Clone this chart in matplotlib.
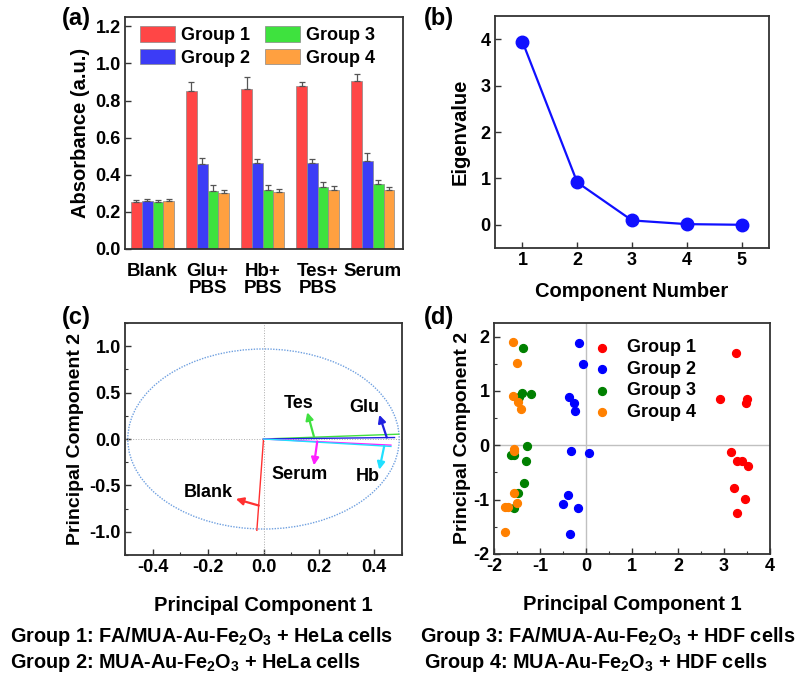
import numpy as np
import matplotlib
matplotlib.use("Agg")
import matplotlib.pyplot as plt
from matplotlib.patches import Ellipse
from matplotlib.ticker import MultipleLocator, FormatStrFormatter

plt.rcParams['font.family'] = ['Liberation Sans', 'DejaVu Sans']
plt.rcParams['font.weight'] = 'bold'
plt.rcParams['axes.labelweight'] = 'bold'
plt.rcParams['axes.unicode_minus'] = False
plt.rcParams['mathtext.fontset'] = 'custom'
plt.rcParams['mathtext.rm'] = 'Liberation Sans:bold'
plt.rcParams['mathtext.default'] = 'rm'

# ---------------- data ----------------
categories = ["Blank", "Glu+\nPBS", "Hb+\nPBS", "Tes+\nPBS", "Serum"]
group_names = ["Group 1", "Group 2", "Group 3", "Group 4"]
bar_colors = ["#ff4646", "#3c3cf6", "#3ee23e", "#ffa040"]

g1_abs = [0.255, 0.851, 0.864, 0.880, 0.907]
g2_abs = [0.258, 0.458, 0.465, 0.463, 0.474]
g3_abs = [0.255, 0.311, 0.320, 0.332, 0.348]
g4_abs = [0.259, 0.300, 0.309, 0.316, 0.320]
g1_err = [0.011, 0.047, 0.061, 0.020, 0.038]
g2_err = [0.011, 0.031, 0.020, 0.022, 0.043]
g3_err = [0.011, 0.034, 0.025, 0.027, 0.024]
g4_err = [0.012, 0.020, 0.014, 0.025, 0.014]

component = [1, 2, 3, 4, 5]
eigenvalue = [3.95, 0.915, 0.094, 0.014, 0.0]

# loadings (line end points) and label arrows
load_names = ["Blank", "Tes", "Glu", "Serum", "Hb"]
load_colors = ["#ff3030", "#40e040", "#2020e0", "#ff20ff", "#20e0ff"]
load_x = [-0.024, 0.488, 0.473, 0.460, 0.460]
load_y = [-0.984, 0.052, 0.016, -0.066, -0.080]
arrow_x0 = [-0.017, 0.182, 0.445, 0.194, 0.436]
arrow_y0 = [-0.717, 0.027, 0.016, -0.027, -0.073]
arrow_x1 = [-0.100, 0.158, 0.418, 0.182, 0.418]
arrow_y1 = [-0.646, 0.288, 0.260, -0.284, -0.331]
label_x = [-0.200, 0.127, 0.364, 0.131, 0.378]
label_y = [-0.580, 0.378, 0.342, -0.378, -0.403]

pc_g1_x = [3.27, 2.91, 3.50, 3.47, 3.15, 3.29, 3.39, 3.53, 3.21, 3.45, 3.28]
pc_g1_y = [1.706, 0.855, 0.855, 0.78, -0.12, -0.285, -0.285, -0.38, -0.78, -0.98, -1.25]
pc_g2_x = [-0.146, -0.073, -0.38, -0.263, -0.24, -0.32, 0.073, -0.40, -0.50, -0.18, -0.34]
pc_g2_y = [1.877, 1.504, 0.891, 0.775, 0.634, -0.10, -0.15, -0.91, -1.08, -1.16, -1.63]
pc_g3_x = [-1.365, -1.39, -1.20, -1.46, -1.277, -1.62, -1.555, -1.31, -1.35, -1.47, -1.555]
pc_g3_y = [1.797, 0.97, 0.946, 0.897, -0.01, -0.175, -0.18, -0.28, -0.695, -0.88, -1.156]
pc_g4_x = [-1.584, -1.50, -1.59, -1.47, -1.42, -1.57, -1.57, -1.555, -1.51, -1.76, -1.70, -1.76]
pc_g4_y = [1.907, 1.52, 0.91, 0.80, 0.66, -0.07, -0.11, -0.88, -1.06, -1.13, -1.13, -1.60]
pc_colors = ["#ff0000", "#0000ff", "#008000", "#ff8000"]

caption_1 = r"Group 1: FA/MUA-Au-Fe$_2$O$_3$ + HeLa cells"
caption_2 = r"Group 2: MUA-Au-Fe$_2$O$_3$ + HeLa cells"
caption_3 = r"Group 3: FA/MUA-Au-Fe$_2$O$_3$ + HDF cells"
caption_4 = r"Group 4: MUA-Au-Fe$_2$O$_3$ + HDF cells"

# ---------------- figure ----------------
fig = plt.figure(figsize=(8.04, 6.82), dpi=100)
ax_a = fig.add_axes([0.1555, 0.6349, 0.3458, 0.3402])
ax_b = fig.add_axes([0.6157, 0.6364, 0.3408, 0.3401])
ax_c = fig.add_axes([0.1555, 0.1862, 0.3445, 0.3402])
ax_d = fig.add_axes([0.6144, 0.1877, 0.3433, 0.3387])

spine_col = "#333333"
tick_fs = 13
label_fs = 14.5
for ax in (ax_a, ax_b, ax_c, ax_d):
    for s in ax.spines.values():
        s.set_color(spine_col)
        s.set_linewidth(1.3)
    ax.tick_params(direction="in", which="both", labelsize=tick_fs, color=spine_col, pad=3)
    ax.tick_params(which="major", length=4.5, width=1)
    ax.tick_params(which="minor", length=2.5, width=0.8)

# ---- (a) bar chart ----
x = np.arange(len(categories))
w = 0.195
vals = [g1_abs, g2_abs, g3_abs, g4_abs]
errs = [g1_err, g2_err, g3_err, g4_err]
for i in range(4):
    ax_a.bar(x + (i - 1.5) * w, vals[i], w, yerr=[np.zeros(5), errs[i]],
             color=bar_colors[i], edgecolor="#888888", linewidth=0.5,
             error_kw=dict(ecolor="#555555", elinewidth=0.9, capsize=2.2, capthick=0.9),
             label=group_names[i])
ax_a.set_xlim(-0.5, 4.55)
ax_a.set_ylim(0, 1.25)
ax_a.set_xticks(x)
ax_a.set_xticklabels(categories, fontsize=13.5, linespacing=1.0)
ax_a.tick_params(axis="x", length=0, pad=10)
ax_a.yaxis.set_major_locator(MultipleLocator(0.2))
ax_a.yaxis.set_major_formatter(FormatStrFormatter("%.1f"))
ax_a.set_ylabel("Absorbance (a.u.)", fontsize=label_fs, labelpad=4)
ax_a.legend(ncol=2, loc="upper left", bbox_to_anchor=(-0.005, 1.03), frameon=False,
            fontsize=13, handlelength=1.95, handleheight=0.95, columnspacing=0.8,
            handletextpad=0.35, labelspacing=0.25, borderpad=0.4)

# ---- (b) scree plot ----
ax_b.plot(component, eigenvalue, "-o", color="#1010ff", lw=1.6, ms=9)
ax_b.set_xlim(0.5, 5.5)
ax_b.set_ylim(-0.5, 4.5)
ax_b.set_xticks(component)
ax_b.set_yticks([0, 1, 2, 3, 4])
ax_b.set_xlabel("Component Number", fontsize=label_fs, labelpad=9)
ax_b.set_ylabel("Eigenvalue", fontsize=label_fs, labelpad=8)

# ---- (c) loading plot ----
ax_c.axhline(0, color="#aaaaaa", lw=0.7, ls=":")
ax_c.axvline(0, color="#aaaaaa", lw=0.7, ls=":")
ax_c.add_patch(Ellipse((0, 0), 0.98, 1.94, fill=False, ec="#6fa0e0", lw=1.0, ls=(0, (1, 1))))
for i in range(len(load_names)):
    ax_c.plot([0, load_x[i]], [0, load_y[i]], color=load_colors[i], lw=1.0)
    ax_c.annotate("", xy=(arrow_x1[i], arrow_y1[i]), xytext=(arrow_x0[i], arrow_y0[i]),
                  arrowprops=dict(arrowstyle="-|>", color=load_colors[i], lw=1.6,
                                  mutation_scale=11, shrinkA=0, shrinkB=0))
    ax_c.text(label_x[i], label_y[i], load_names[i], ha="center", va="center", fontsize=13)
ax_c.set_xlim(-0.5, 0.5)
ax_c.set_ylim(-1.25, 1.25)
ax_c.xaxis.set_major_locator(MultipleLocator(0.2))
ax_c.xaxis.set_minor_locator(MultipleLocator(0.1))
ax_c.yaxis.set_major_locator(MultipleLocator(0.5))
ax_c.yaxis.set_minor_locator(MultipleLocator(0.25))
ax_c.xaxis.set_major_formatter(FormatStrFormatter("%.1f"))
ax_c.yaxis.set_major_formatter(FormatStrFormatter("%.1f"))
ax_c.set_xlabel("Principal Component 1", fontsize=label_fs, labelpad=14)
ax_c.set_ylabel("Principal Component 2", fontsize=14, labelpad=4)

# ---- (d) score plot ----
ax_d.axhline(0, color="#c0c0c0", lw=1.0, zorder=0)
ax_d.axvline(0, color="#c0c0c0", lw=1.0, zorder=0)
pcx = [pc_g1_x, pc_g2_x, pc_g3_x, pc_g4_x]
pcy = [pc_g1_y, pc_g2_y, pc_g3_y, pc_g4_y]
for i in range(4):
    ax_d.scatter(pcx[i], pcy[i], s=32, color=pc_colors[i], label=group_names[i], zorder=3)
ax_d.set_xlim(-2, 4)
ax_d.set_ylim(-2, 2.25)
ax_d.xaxis.set_major_locator(MultipleLocator(1))
ax_d.xaxis.set_minor_locator(MultipleLocator(0.5))
ax_d.yaxis.set_major_locator(MultipleLocator(1))
ax_d.yaxis.set_minor_locator(MultipleLocator(0.5))
ax_d.set_xlabel("Principal Component 1", fontsize=label_fs, labelpad=14)
ax_d.set_ylabel("Principal Component 2", fontsize=14, labelpad=2)
ax_d.legend(loc="upper left", bbox_to_anchor=(0.30, 1.0), frameon=False, fontsize=13,
            handlelength=1.0, handletextpad=0.9, labelspacing=0.25, borderpad=0.4)

# panel labels
fig.text(0.077, 0.973, "(a)", fontsize=17, va="center")
fig.text(0.527, 0.973, "(b)", fontsize=17, va="center")
fig.text(0.077, 0.534, "(c)", fontsize=17, va="center")
fig.text(0.527, 0.534, "(d)", fontsize=17, va="center")

# captions
cap_fs = 14.3
fig.text(0.012, 0.066, caption_1, fontsize=cap_fs, va="center")
fig.text(0.012, 0.028, caption_2, fontsize=cap_fs, va="center")
fig.text(0.522, 0.066, caption_3, fontsize=cap_fs, va="center")
fig.text(0.527, 0.028, caption_4, fontsize=cap_fs, va="center")

fig.savefig("out.png", dpi=100)
